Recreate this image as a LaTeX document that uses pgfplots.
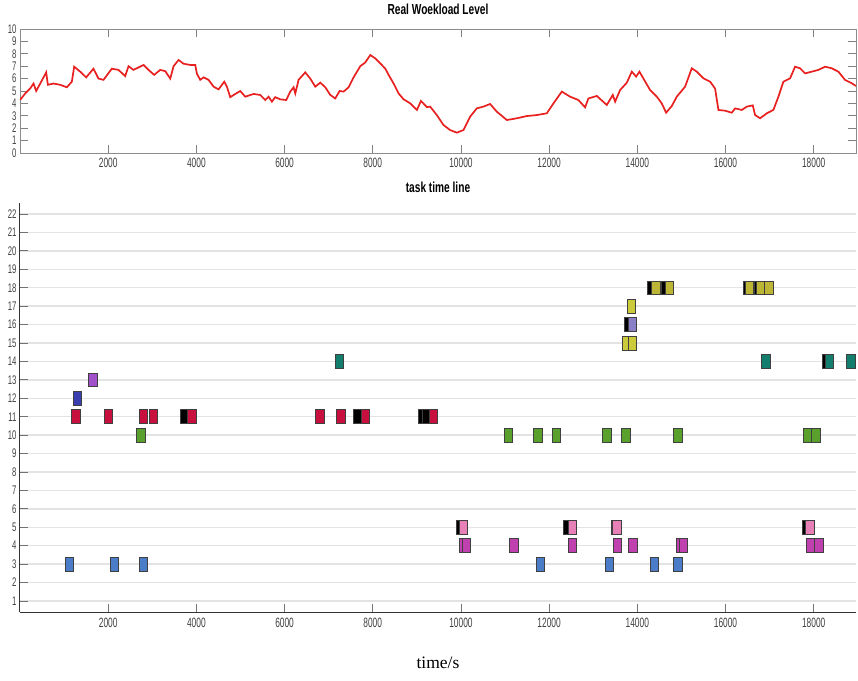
\documentclass[border=0pt]{standalone}
\usepackage{fontspec}
\setmainfont{Liberation Sans}
\newfontfamily\tickfont[FakeStretch=0.62]{Liberation Sans}
\newfontfamily\titlefont[FakeStretch=0.7]{Liberation Sans}
\newfontfamily\seriffont{Liberation Serif}
\usepackage{pgfplots}
\pgfplotsset{compat=1.18}
\definecolor{wred}{HTML}{E82020}
\definecolor{tred}{HTML}{C8103F}
\definecolor{tblue}{HTML}{3A3FB0}
\definecolor{tpurple}{HTML}{A050C8}
\definecolor{tteal}{HTML}{137E6E}
\definecolor{tyellow}{HTML}{CACA3A}
\definecolor{tyellowd}{HTML}{BDB535}
\definecolor{tlav}{HTML}{8A80C8}
\definecolor{tgreen}{HTML}{5AA02C}
\definecolor{tpink}{HTML}{E880B8}
\definecolor{tmag}{HTML}{C040B0}
\definecolor{tlblue}{HTML}{4A7CC8}
\definecolor{gridc}{HTML}{E3E3E3}
\pgfplotsset{
  task/.style={only marks, mark=square*, mark size=4.3pt,
    mark options={yscale=1.6, draw=black!75, line width=0.7pt, fill=#1}},
  common/.style={
    scale only axis, width=836pt, xmin=0, xmax=18960,
    xtick={2000,4000,...,18000},
    scaled x ticks=false,
    /pgf/number format/1000 sep={},
    /pgf/number format/assume math mode=true,
    tick label style={font=\tickfont\fontsize{13.5}{13.5}\selectfont, text=black!75},
    title style={font=\titlefont\bfseries\fontsize{14.5}{14.5}\selectfont, at={(0.5,1)}, anchor=center},
    tick align=inside,
  }
}
\begin{document}
\begin{tikzpicture}
\path[use as bounding box] (0pt,0pt) rectangle (858pt,680pt);
% ---------- top: workload ----------
\begin{axis}[common,
  at={(20pt,527pt)}, anchor=south west, height=124pt,
  ymin=0, ymax=10, ytick={0,1,...,10},
  tick pos=both, major tick length=8pt,
  axis line style={black!45},
  tick style={black!50, line width=0.8pt},
  yticklabel style={font=\tickfont\fontsize{12.5}{12.5}\selectfont},
  xticklabel style={yshift=-2pt},
  title={Real Woekload Level}, title style={yshift=14pt},
]
\addplot[wred, line width=1.7pt] coordinates {
(0,4.27) (118,4.8) (231,5.2) (307,5.6) (367,5.0) (458,5.6) (594,6.5) (632,5.5)
(760,5.6) (911,5.5) (1062,5.3) (1176,5.75) (1229,6.96) (1365,6.56) (1501,6.1)
(1667,6.8) (1780,6.0) (1894,5.9) (2083,6.8) (2234,6.7) (2385,6.2) (2461,7.0)
(2574,6.7) (2801,7.1) (2915,6.7) (3043,6.3) (3179,6.7) (3294,6.6) (3408,6.0)
(3483,7.0) (3596,7.5) (3710,7.2) (3861,7.1) (3975,7.1) (4011,6.4) (4087,5.9)
(4163,6.1) (4276,5.9) (4390,5.35) (4503,5.13) (4632,5.75) (4692,5.35) (4768,4.5)
(4881,4.76) (4995,5.0) (5108,4.54) (5297,4.76) (5448,4.68) (5562,4.27) (5637,4.54)
(5713,4.14) (5788,4.5) (5902,4.33) (6038,4.27) (6129,4.95) (6205,5.3) (6243,4.8)
(6318,5.9) (6469,6.5) (6583,6.0) (6696,5.35) (6810,5.67) (6924,5.3) (7037,4.68)
(7150,4.4) (7249,5.0) (7339,4.95) (7453,5.3) (7566,6.1) (7717,7.0) (7830,7.3)
(7944,7.9) (8057,7.63) (8171,7.23) (8284,6.8) (8360,6.3) (8473,5.6) (8587,4.8)
(8700,4.33) (8851,4.0) (9002,3.47) (9093,4.2) (9229,3.7) (9302,3.74) (9453,3.06)
(9603,2.26) (9755,1.85) (9907,1.64) (10057,1.85) (10209,2.93) (10360,3.6)
(10510,3.74) (10662,3.95) (10814,3.33) (11041,2.66) (11268,2.8) (11494,2.98)
(11721,3.06) (11948,3.2) (12098,4.0) (12288,4.95) (12476,4.54) (12665,4.27)
(12816,3.68) (12891,4.4) (13082,4.6) (13308,3.87) (13444,4.68) (13497,4.14)
(13610,5.08) (13762,5.67) (13875,6.56) (13973,6.16) (14048,6.56) (14139,6.0)
(14290,5.08) (14442,4.54) (14555,4.0) (14653,3.25) (14782,3.79) (14895,4.54)
(15084,5.35) (15235,6.83) (15349,6.56) (15500,6.02) (15651,5.75) (15764,5.2)
(15840,3.47) (15991,3.41) (16142,3.25) (16218,3.6) (16370,3.47) (16483,3.74)
(16619,3.84) (16671,3.06) (16785,2.8) (16936,3.2) (17086,3.47) (17200,4.54)
(17313,5.75) (17465,6.02) (17578,6.96) (17692,6.83) (17805,6.42) (17957,6.56)
(18107,6.7) (18259,6.96) (18410,6.83) (18560,6.56) (18712,5.89) (18864,5.62)
(18960,5.4)
};
\end{axis}
% ---------- bottom: task time line ----------
\begin{axis}[common,
  at={(20pt,68pt)}, anchor=south west, height=409pt,
  ymin=0.4, ymax=22.6, ytick={1,2,...,22},
  axis x line*=bottom, axis y line*=left,
  major tick length=8pt,
  axis line style={black!80, line width=1pt},
  tick style={black!55, line width=0.8pt},
  ymajorgrids, grid style={gridc, line width=1.4pt},
  yticklabel style={font=\tickfont\fontsize{12.5}{12.5}\selectfont},
  xticklabel style={yshift=-3pt},
  title={task time line}, title style={yshift=10pt},
  xlabel={time/s},
  xlabel style={font=\seriffont\fontsize{17.5}{17.5}\selectfont, at={(0.5,0)}, anchor=center, yshift=-51pt},
]
% black (partially hidden) tasks first
\addplot[task=black] coordinates {
(3732,11) (7662,11) (9135,11) (9212,11)
(18296,14) (13800,16)
(14330,18) (14640,18) (16510,18) (16747,18)
(10000,5) (12415,5) (13505,5) (17843,5)
};
\addplot[task=tred] coordinates {
(1267,11) (2007,11) (2800,11) (3020,11) (3898,11) (6807,11) (7283,11) (7828,11) (9377,11)
};
\addplot[task=tblue] coordinates {(1304,12)};
\addplot[task=tpurple] coordinates {(1652,13)};
\addplot[task=tteal] coordinates {(7245,14) (16920,14) (18356,14) (18841,14)};
\addplot[task=tyellow] coordinates {(13761,15) (13888,15) (13867,17)};
\addplot[task=tlav] coordinates {(13883,16)};
\addplot[task=tyellowd] coordinates {(14426,18) (14728,18) (16542,18) (16807,18) (16985,18)};
\addplot[task=tgreen] coordinates {
(2741,10) (11078,10) (11744,10) (12166,10) (13308,10) (13739,10) (14925,10) (17873,10) (18054,10)
};
\addplot[task=tpink] coordinates {(10057,5) (12528,5) (13535,5) (17918,5)};
\addplot[task=tmag] coordinates {
(10070,4) (10120,4) (11206,4) (12528,4) (13550,4) (13905,4) (14990,4) (15046,4) (17933,4) (18115,4)
};
\addplot[task=tlblue] coordinates {
(1123,3) (2137,3) (2800,3) (11803,3) (13368,3) (14388,3) (14925,3)
};
\end{axis}
\end{tikzpicture}
\end{document}
